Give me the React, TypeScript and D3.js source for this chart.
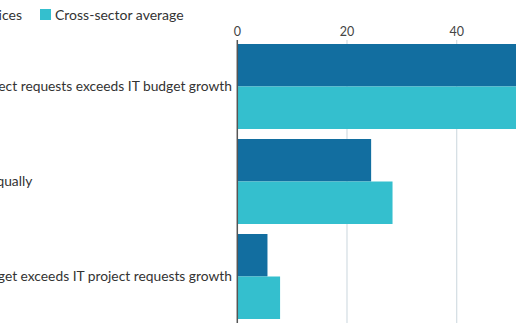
import React, { useLayoutEffect, useRef, useState } from "react";
import * as d3 from "d3";

const categories = [
  "Growth in IT project requests exceeds IT budget growth",
  "Growing about equally",
  "Growth in IT budget exceeds IT project requests growth",
];
const seriesNames = ["Financial services", "Cross-sector average"];
const financialServices = [60, 24.4, 5.5];
const crossSector = [62, 28.3, 7.8];
const xTicks = [0, 20, 40];

const colors = ["#126ea0", "#34bfce"];

export default function App() {
  const W = 516;
  const H = 323;
  const measureRef = useRef<SVGTextElement>(null);
  const [labelX, setLabelX] = useState(-110);
  const labelSize = 13.8;

  useLayoutEffect(() => {
    if (measureRef.current) {
      const w = measureRef.current.getComputedTextLength();
      setLabelX(232 - w);
    }
  }, []);

  const x = d3.scaleLinear().domain([0, 40]).range([237.3, 456.7]);
  const y = d3
    .scaleBand<string>()
    .domain(categories)
    .range([39, 324])
    .paddingInner(10 / 95)
    .paddingOuter(5 / 95);
  const inner = d3
    .scaleBand<number>()
    .domain([0, 1])
    .range([0, y.bandwidth()]);
  const series = [financialServices, crossSector];
  const font = "Lato, 'Open Sans', sans-serif";

  return (
    <svg
      width={W}
      height={H}
      style={{ position: "absolute", left: 0, top: 0, background: "#fff" }}
      fontFamily={font}
    >
      <text
        ref={measureRef}
        x={0}
        y={-100}
        fontSize={labelSize}
        visibility="hidden"
      >
        {categories[0]}
      </text>
      {/* legend */}
      <g>
        <rect x={-118} y={9} width={11} height={11} fill={colors[0]} />
        <text x={22} y={19.5} fontSize={14} fill="#333" textAnchor="end">
          {seriesNames[0]}
        </text>
        <rect x={40} y={9} width={11} height={11} fill={colors[1]} />
        <text x={55} y={19.5} fontSize={14} fill="#333">
          {seriesNames[1]}
        </text>
      </g>
      {/* grid + ticks */}
      {xTicks.map((t) => (
        <g key={t}>
          {t !== 0 && (
            <line
              x1={x(t)}
              x2={x(t)}
              y1={40}
              y2={H}
              stroke="#d3dde3"
              strokeWidth={1.2}
            />
          )}
          <text
            x={x(t)}
            y={36}
            fontSize={12.5}
            fill="#444"
            textAnchor="middle"
          >
            {t}
          </text>
        </g>
      ))}
      {/* bars */}
      {categories.map((c, i) => (
        <g key={c}>
          {series.map((s, j) => (
            <rect
              key={j}
              x={x(0)}
              y={(y(c) ?? 0) + (inner(j) ?? 0)}
              width={Math.max(0, x(s[i]) - x(0))}
              height={inner.bandwidth()}
              fill={colors[j]}
            />
          ))}
          <text
            x={labelX}
            y={(y(c) ?? 0) + y.bandwidth() / 2}
            dy="0.35em"
            fontSize={labelSize}
            fill="#333"
          >
            {c}
          </text>
        </g>
      ))}
      {/* zero axis */}
      <line
        x1={x(0)}
        x2={x(0)}
        y1={40}
        y2={H}
        stroke="#555"
        strokeWidth={1.5}
      />
    </svg>
  );
}
